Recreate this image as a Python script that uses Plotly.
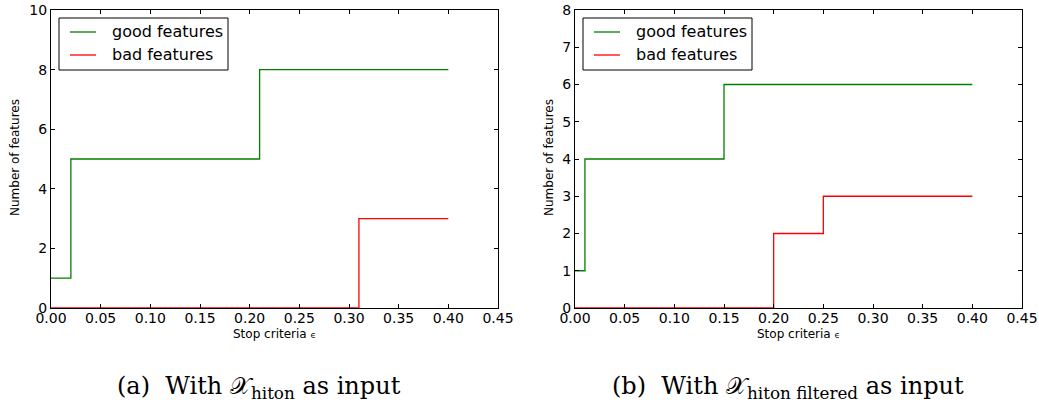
import plotly.graph_objects as go

# Data
good_a_x = [0.0, 0.02, 0.21, 0.40]
good_a_y = [1, 5, 8, 8]
bad_a_x = [0.0, 0.31, 0.40]
bad_a_y = [0, 3, 3]

good_b_x = [0.0, 0.01, 0.15, 0.40]
good_b_y = [1, 4, 6, 6]
bad_b_x = [0.0, 0.20, 0.25, 0.40]
bad_b_y = [0, 2, 3, 3]

x_ticks = [0.0, 0.05, 0.10, 0.15, 0.20, 0.25, 0.30, 0.35, 0.40, 0.45]
x_ticklabels = ["%.2f" % v for v in x_ticks]
y_ticks_a = [0, 2, 4, 6, 8, 10]
y_ticks_b = [0, 1, 2, 3, 4, 5, 6, 7, 8]

W, H = 1039, 407
GREEN = "#008000"
RED = "#ff0000"
FONT = "DejaVu Sans"

fig = go.Figure()

fig.add_trace(go.Scatter(x=good_a_x, y=good_a_y, mode="lines", line=dict(color=GREEN, width=1.3, shape="hv"),
                         name="good features", xaxis="x", yaxis="y", showlegend=False))
fig.add_trace(go.Scatter(x=bad_a_x, y=bad_a_y, mode="lines", line=dict(color=RED, width=1.3, shape="hv"),
                         name="bad features", xaxis="x", yaxis="y", showlegend=False))
fig.add_trace(go.Scatter(x=good_b_x, y=good_b_y, mode="lines", line=dict(color=GREEN, width=1.3, shape="hv"),
                         name="good features", xaxis="x2", yaxis="y2", showlegend=False))
fig.add_trace(go.Scatter(x=bad_b_x, y=bad_b_y, mode="lines", line=dict(color=RED, width=1.3, shape="hv"),
                         name="bad features", xaxis="x2", yaxis="y2", showlegend=False))

def px_x(p):
    return p / W

def px_y(p):
    return 1 - p / H

ydom = [px_y(308), px_y(10)]

common = dict(showline=True, linecolor="black", linewidth=1, mirror="allticks", ticks="inside",
              ticklen=4, tickcolor="black", showgrid=False, zeroline=False,
              tickfont=dict(family=FONT, size=14, color="black"), automargin=False)

xcommon = dict(range=[0, 0.45], tickvals=x_ticks, ticktext=x_ticklabels, ticklabelstandoff=-3, **common)

fig.update_layout(
    width=W, height=H,
    margin=dict(l=0, r=0, t=0, b=0),
    paper_bgcolor="white", plot_bgcolor="white",
    showlegend=False,
    xaxis=dict(domain=[px_x(51), px_x(498)], anchor="y", **xcommon),
    yaxis=dict(domain=ydom, range=[0, 10], tickvals=y_ticks_a, anchor="x", **common),
    xaxis2=dict(domain=[px_x(575), px_x(1022)], anchor="y2", **xcommon),
    yaxis2=dict(domain=ydom, range=[0, 8], tickvals=y_ticks_b, anchor="x2", **common),
)

# axis titles and captions as annotations
ann = []
for cx in [(51 + 498) / 2, (575 + 1022) / 2]:
    ann.append(dict(x=cx / W, y=px_y(334), xref="paper", yref="paper",
                    text="Stop criteria <span style='font-size:9px'>ϵ</span>",
                    showarrow=False, font=dict(family=FONT, size=12, color="black"), xanchor="center", yanchor="middle"))
for lx in [15, 549]:
    ann.append(dict(x=lx / W, y=px_y(158), xref="paper", yref="paper", text="Number of features",
                    showarrow=False, textangle=-90, font=dict(family=FONT, size=12, color="black"),
                    xanchor="center", yanchor="middle"))
ann.append(dict(x=259 / W, y=px_y(387), xref="paper", yref="paper",
                text="(a)  With 𝒳<sub>hiton</sub> as input", showarrow=False,
                font=dict(family="DejaVu Serif", size=24, color="black"), xanchor="center", yanchor="middle"))
ann.append(dict(x=788 / W, y=px_y(387), xref="paper", yref="paper",
                text="(b)  With 𝒳<sub>hiton filtered</sub> as input", showarrow=False,
                font=dict(family="DejaVu Serif", size=24, color="black"), xanchor="center", yanchor="middle"))

# legends drawn as boxes with sample lines
for (bx0, bx1, by0, by1) in [(59, 228, 18, 70), (583, 752, 18, 70)]:
    fig.add_shape(type="rect", xref="paper", yref="paper", x0=bx0 / W, x1=bx1 / W, y0=px_y(by1), y1=px_y(by0),
                  line=dict(color="black", width=1), fillcolor="white", layer="above")
    for i, (lab, col) in enumerate([("good features", GREEN), ("bad features", RED)]):
        yy = 32 + i * 23
        fig.add_shape(type="line", xref="paper", yref="paper", x0=(bx0 + 11) / W, x1=(bx0 + 37) / W,
                      y0=px_y(yy), y1=px_y(yy), line=dict(color=col, width=1.3), layer="above")
        ann.append(dict(x=(bx0 + 51) / W, y=px_y(yy), xref="paper", yref="paper", text=lab, showarrow=False,
                        font=dict(family=FONT, size=16, color="black"), xanchor="left", yanchor="middle"))

fig.update_layout(annotations=ann)
fig.write_html("out.html", post_script="document.body.style.margin='0';",
               config={"displayModeBar": False})
